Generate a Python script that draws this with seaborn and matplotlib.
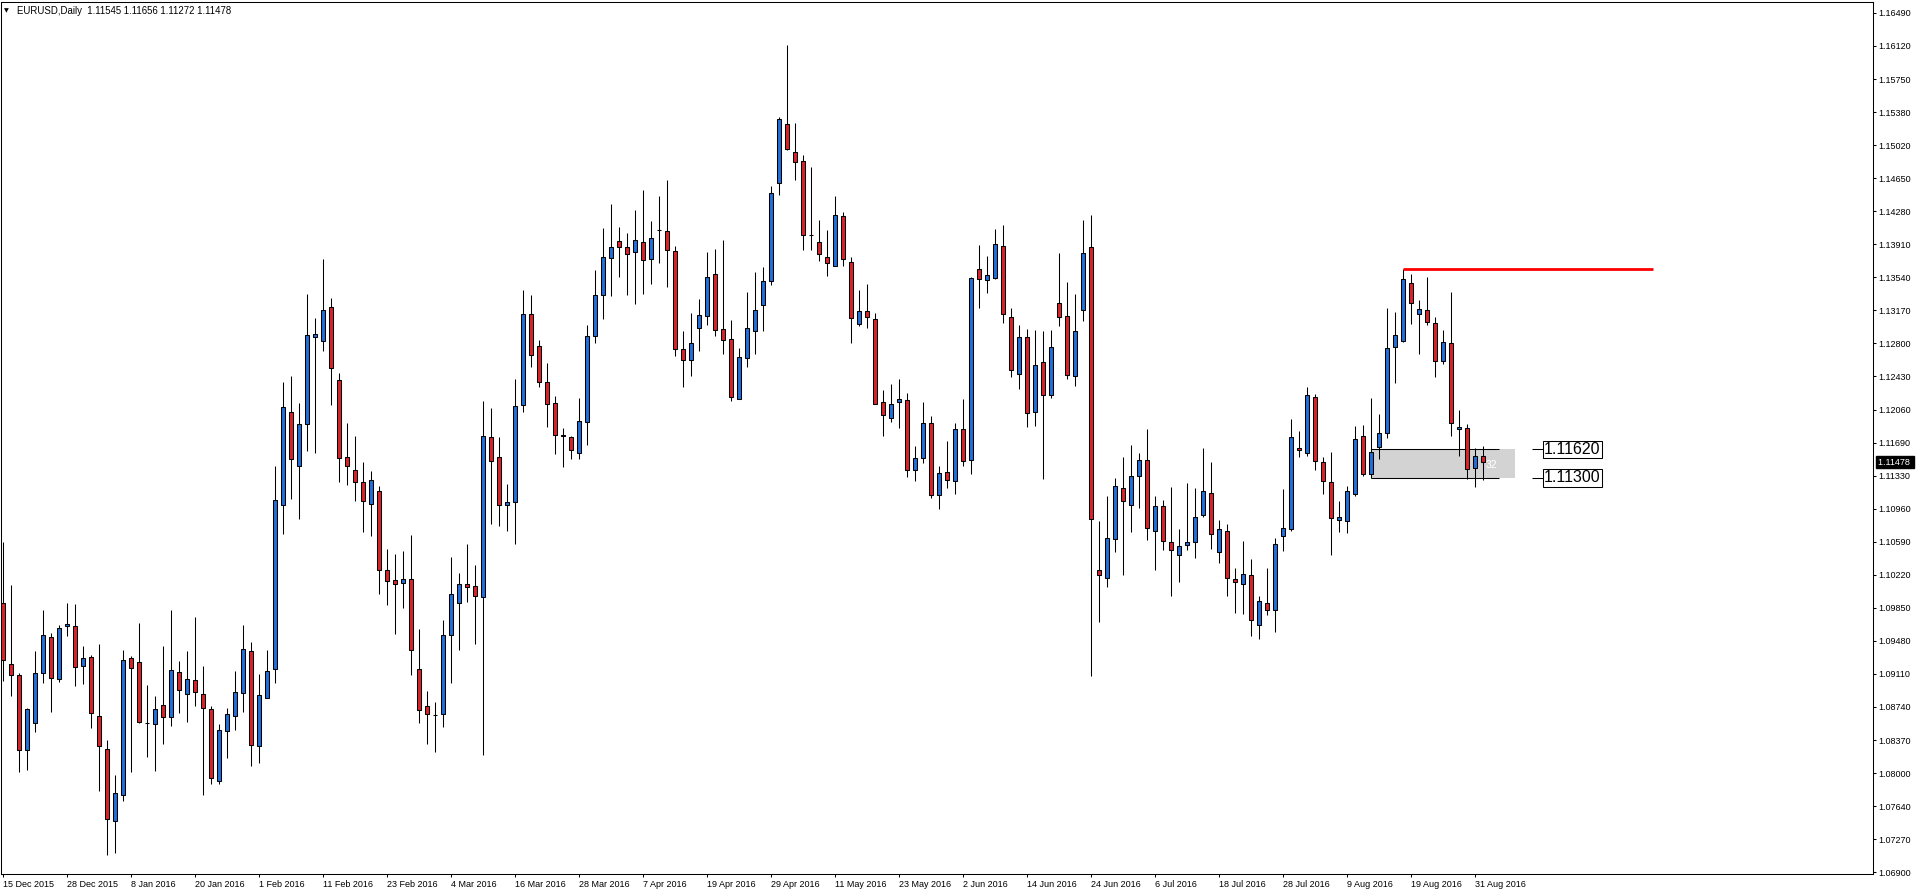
import numpy as np
import pandas as pd
import matplotlib
matplotlib.use("Agg")
import matplotlib.pyplot as plt
import matplotlib.transforms as mtransforms
from matplotlib.patches import Rectangle
import seaborn as sns

# Daily EURUSD bars
open_ = [1.09904, 1.09223, 1.09104, 1.08263, 1.08565, 1.09123, 1.09528, 1.09056, 1.09644, 1.09647,
         1.09201, 1.09305, 1.08643, 1.08275, 1.07471, 1.07761, 1.09290, 1.09246, 1.08568, 1.08554,
         1.08766, 1.08632, 1.09134, 1.08888, 1.09045, 1.08888, 1.08721, 1.07918, 1.08475, 1.08643,
         1.08900, 1.09371, 1.08309, 1.08847, 1.09164, 1.10994, 1.12034, 1.11436, 1.11900, 1.12875,
         1.12829, 1.13211, 1.12392, 1.11537, 1.11385, 1.11252, 1.11008, 1.11151, 1.10273, 1.10158,
         1.10125, 1.10171, 1.09164, 1.08755, 1.08654, 1.08668, 1.09551, 1.09905, 1.10116, 1.10093,
         1.09974, 1.11757, 1.11534, 1.10998, 1.11030, 1.12113, 1.13126, 1.12776, 1.12367, 1.12134,
         1.11778, 1.11757, 1.11582, 1.11922, 1.12888, 1.13344, 1.13753, 1.13944, 1.13875, 1.13827,
         1.13933, 1.13742, 1.14071, 1.14055, 1.13832, 1.12739, 1.12612, 1.12978, 1.13110, 1.13572,
         1.12962, 1.12847, 1.12186, 1.12635, 1.12935, 1.13228, 1.13502, 1.14588, 1.15255, 1.14937,
         1.14837, 1.14008, 1.13933, 1.13764, 1.13671, 1.14220, 1.13708, 1.13016, 1.13159, 1.13078,
         1.12143, 1.11974, 1.12149, 1.12167, 1.11388, 1.11519, 1.11912, 1.11107, 1.11363, 1.11269,
         1.11849, 1.11503, 1.13631, 1.13514, 1.13530, 1.13885, 1.13095, 1.12458, 1.12872, 1.12038,
         1.12596, 1.12224, 1.13254, 1.13105, 1.12442, 1.13179, 1.13875, 1.10271, 1.10186, 1.10616,
         1.11189, 1.11004, 1.11317, 1.11503, 1.10712, 1.10988, 1.10590, 1.10446, 1.10547, 1.10590,
         1.10892, 1.11133, 1.10474, 1.10712, 1.10173, 1.10118, 1.10217, 1.09663, 1.09905, 1.09831,
         1.10653, 1.10732, 1.11637, 1.11578, 1.12202, 1.11479, 1.11256, 1.10831, 1.10821, 1.11123,
         1.11771, 1.11345, 1.11647, 1.11801, 1.12761, 1.12828, 1.13476, 1.13130, 1.13174, 1.13033,
         1.12605, 1.12806, 1.11846, 1.11857, 1.11407, 1.11545]

high = [1.10581, 1.10109, 1.09123, 1.08732, 1.09372, 1.09830, 1.09565, 1.09662, 1.09904, 1.09897,
        1.09428, 1.09324, 1.09450, 1.08379, 1.07988, 1.09383, 1.09316, 1.09685, 1.08993, 1.08870,
        1.09420, 1.09830, 1.09260, 1.09372, 1.09751, 1.09205, 1.08758, 1.08557, 1.08732, 1.09149,
        1.09662, 1.09468, 1.09114, 1.09385, 1.11436, 1.12374, 1.12443, 1.12135, 1.13358, 1.13087,
        1.13749, 1.13312, 1.12475, 1.11919, 1.11772, 1.11477, 1.11376, 1.11215, 1.10512, 1.10456,
        1.10489, 1.10668, 1.09620, 1.08925, 1.08801, 1.09712, 1.10420, 1.10240, 1.10567, 1.10332,
        1.12158, 1.12076, 1.11752, 1.11237, 1.12410, 1.13402, 1.13344, 1.12835, 1.12585, 1.12214,
        1.11863, 1.11768, 1.12192, 1.13010, 1.13625, 1.14092, 1.14363, 1.14103, 1.14029, 1.14294,
        1.14517, 1.14167, 1.14448, 1.14623, 1.13885, 1.12935, 1.13142, 1.13302, 1.13827, 1.13859,
        1.13960, 1.13066, 1.12754, 1.13378, 1.13596, 1.13658, 1.14557, 1.15330, 1.16135, 1.15261,
        1.14906, 1.14775, 1.14182, 1.14070, 1.14451, 1.14263, 1.13771, 1.13403, 1.13465, 1.13141,
        1.12286, 1.12348, 1.12405, 1.12248, 1.11656, 1.12149, 1.11987, 1.11431, 1.11712, 1.11912,
        1.12180, 1.13546, 1.13901, 1.13779, 1.14082, 1.14124, 1.13201, 1.13010, 1.12967, 1.12946,
        1.12935, 1.12946, 1.13806, 1.13482, 1.13355, 1.14182, 1.14236, 1.10823, 1.11104, 1.11295,
        1.11529, 1.11672, 1.11582, 1.11842, 1.11104, 1.11057, 1.11195, 1.10733, 1.11248, 1.11184,
        1.11630, 1.11474, 1.10831, 1.10791, 1.10291, 1.10593, 1.10400, 1.09980, 1.10291, 1.10633,
        1.11177, 1.11954, 1.11821, 1.12315, 1.12236, 1.11538, 1.11593, 1.11039, 1.11212, 1.11885,
        1.11890, 1.12197, 1.12019, 1.13201, 1.13147, 1.13630, 1.13580, 1.13290, 1.13539, 1.13096,
        1.12951, 1.13379, 1.12062, 1.11906, 1.11634, 1.11656]

low = [1.09037, 1.08862, 1.08014, 1.08040, 1.08461, 1.09007, 1.08684, 1.09019, 1.09532, 1.08974,
       1.08996, 1.08505, 1.07802, 1.07092, 1.07114, 1.07691, 1.08014, 1.08565, 1.08182, 1.08025,
       1.08327, 1.08528, 1.08673, 1.08572, 1.08751, 1.07761, 1.07880, 1.07880, 1.08170, 1.08487,
       1.08688, 1.08088, 1.08121, 1.08840, 1.09017, 1.10673, 1.11063, 1.10838, 1.11597, 1.11574,
       1.12714, 1.12112, 1.11252, 1.11220, 1.11040, 1.10696, 1.10654, 1.10010, 1.09882, 1.09560,
       1.09850, 1.09100, 1.08571, 1.08332, 1.08245, 1.08516, 1.09013, 1.09381, 1.09914, 1.09445,
       1.08203, 1.10786, 1.10759, 1.10706, 1.10563, 1.12033, 1.12537, 1.12314, 1.11869, 1.11571,
       1.11428, 1.11513, 1.11513, 1.11667, 1.12808, 1.13073, 1.13328, 1.13540, 1.13339, 1.13238,
       1.13349, 1.13461, 1.13694, 1.13429, 1.12659, 1.12314, 1.12442, 1.12718, 1.13004, 1.12882,
       1.12681, 1.12155, 1.12180, 1.12535, 1.12685, 1.12935, 1.13459, 1.14457, 1.14960, 1.14631,
       1.13839, 1.13839, 1.13727, 1.13552, 1.13665, 1.13671, 1.12804, 1.12991, 1.12972, 1.12125,
       1.11774, 1.11930, 1.11856, 1.11307, 1.11263, 1.11463, 1.11082, 1.10951, 1.11188, 1.11119,
       1.11431, 1.11343, 1.13195, 1.13360, 1.13519, 1.13026, 1.12426, 1.12293, 1.11869, 1.11879,
       1.11285, 1.12192, 1.12994, 1.12405, 1.12325, 1.13052, 1.09088, 1.09693, 1.10080, 1.10473,
       1.10213, 1.10696, 1.10966, 1.10606, 1.10271, 1.10494, 1.09985, 1.10139, 1.10500, 1.10404,
       1.10866, 1.10509, 1.10356, 1.09980, 1.09791, 1.09782, 1.09539, 1.09504, 1.09767, 1.09579,
       1.10489, 1.10707, 1.11533, 1.11543, 1.11390, 1.11118, 1.10435, 1.10692, 1.10682, 1.11103,
       1.11326, 1.11340, 1.11509, 1.11746, 1.12365, 1.12813, 1.13014, 1.12680, 1.13007, 1.12423,
       1.12568, 1.11772, 1.11549, 1.11288, 1.11203, 1.11272]

close = [1.09268, 1.09104, 1.08263, 1.08721, 1.09123, 1.09547, 1.09067, 1.09625, 1.09673, 1.09186,
         1.09294, 1.08676, 1.08304, 1.07493, 1.07784, 1.09268, 1.09179, 1.08576, 1.08568, 1.08721,
         1.08632, 1.09156, 1.08933, 1.09056, 1.08911, 1.08732, 1.07951, 1.08487, 1.08665, 1.08911,
         1.09391, 1.08318, 1.08875, 1.09146, 1.11054, 1.12089, 1.11509, 1.11900, 1.12893, 1.12907,
         1.13174, 1.12530, 1.11523, 1.11436, 1.11257, 1.11045, 1.11275, 1.10271, 1.10153, 1.10116,
         1.10171, 1.09381, 1.08709, 1.08668, 1.08654, 1.09546, 1.10006, 1.10116, 1.10084, 1.09983,
         1.11767, 1.11492, 1.10998, 1.11030, 1.12102, 1.13126, 1.12670, 1.12367, 1.12129, 1.11784,
         1.11763, 1.11614, 1.11932, 1.12882, 1.13344, 1.13763, 1.13875, 1.13875, 1.13800, 1.13954,
         1.13731, 1.13976, 1.14071, 1.13843, 1.12734, 1.12612, 1.12803, 1.13116, 1.13540, 1.12957,
         1.12845, 1.12199, 1.12648, 1.12972, 1.13178, 1.13496, 1.14476, 1.15305, 1.14968, 1.14825,
         1.14008, 1.14008, 1.13796, 1.13696, 1.14232, 1.13739, 1.13084, 1.13159, 1.13091, 1.12130,
         1.11999, 1.12130, 1.12186, 1.11388, 1.11519, 1.11912, 1.11107, 1.11350, 1.11282, 1.11843,
         1.11488, 1.13530, 1.13519, 1.13562, 1.13912, 1.13126, 1.12506, 1.12872, 1.12028, 1.12559,
         1.12224, 1.12760, 1.13100, 1.12447, 1.12941, 1.13811, 1.10844, 1.10213, 1.10632, 1.11211,
         1.11046, 1.11322, 1.11503, 1.10744, 1.10988, 1.10600, 1.10500, 1.10542, 1.10584, 1.10866,
         1.11152, 1.10677, 1.10732, 1.10182, 1.10143, 1.10232, 1.09717, 1.09930, 1.09831, 1.10568,
         1.10742, 1.11756, 1.11608, 1.12226, 1.11484, 1.11266, 1.10855, 1.10860, 1.11152, 1.11736,
         1.11345, 1.11593, 1.11806, 1.12756, 1.12894, 1.13520, 1.13252, 1.13189, 1.13040, 1.12605,
         1.12821, 1.11909, 1.11869, 1.11400, 1.11549, 1.11478]

# x axis: one label every 8 bars
date_labels = ['15 Dec 2015', '28 Dec 2015', '8 Jan 2016', '20 Jan 2016', '1 Feb 2016',
               '11 Feb 2016', '23 Feb 2016', '4 Mar 2016', '16 Mar 2016', '28 Mar 2016',
               '7 Apr 2016', '19 Apr 2016', '29 Apr 2016', '11 May 2016', '23 May 2016',
               '2 Jun 2016', '14 Jun 2016', '24 Jun 2016', '6 Jul 2016', '18 Jul 2016',
               '28 Jul 2016', '9 Aug 2016', '19 Aug 2016', '31 Aug 2016']
bars_per_label = 8

# y axis labels (bottom to top)
price_labels = ['1.06900', '1.07270', '1.07640', '1.08000', '1.08370', '1.08740', '1.09110',
                '1.09480', '1.09850', '1.10220', '1.10590', '1.10960', '1.11330', '1.11690',
                '1.12060', '1.12430', '1.12800', '1.13170', '1.13540', '1.13910', '1.14280',
                '1.14650', '1.15020', '1.15380', '1.15750', '1.16120', '1.16490']

# drawn objects
resistance = 1.13630
zone_top = 1.11620
zone_bottom = 1.11300
zone_text = '32'

UP = '#2070D8'
DOWN = '#D8232A'

df = pd.DataFrame({'open': open_, 'high': high, 'low': low, 'close': close})
df['bar'] = np.arange(len(df))

sns.set_theme(style='white')
plt.rcParams['font.family'] = ['Liberation Sans', 'DejaVu Sans']

fig = plt.figure(figsize=(19.16, 8.96), dpi=100)
ax = fig.add_axes([1 / 1916, 21.7 / 896, 1872 / 1916, 872.3 / 896])

up = df['close'] >= df['open']
colors = np.where(up, UP, DOWN)

# wicks then bodies
ax.vlines(df['bar'], df['low'], df['high'], color='black', linewidth=0.75, zorder=2)
ax.bar(df['bar'], (df['close'] - df['open']).abs(),
       bottom=df[['open', 'close']].min(axis=1), width=0.5,
       color=colors, edgecolor='black', linewidth=0.75, zorder=3)

# grey zone with its lines
ax.add_patch(Rectangle((171.0, zone_bottom), 18.0, zone_top - zone_bottom,
                       facecolor='#D3D3D3', edgecolor='none', zorder=1))
ax.hlines([zone_top, zone_bottom], 171.0, 187.0, color='black', linewidth=0.75, zorder=1.5)
ax.vlines(171.0, zone_bottom, zone_top, color='black', linewidth=0.75, zorder=1.5)
ax.text(185.3, (zone_top + zone_bottom) / 2 - 0.0001, zone_text, color='white',
        fontsize=7.5, ha='left', va='center', zorder=4)

# price labels of the zone
for p in (zone_top, zone_bottom):
    ax.hlines(p, 191.1, 192.4, color='black', linewidth=0.75)
    ax.text(192.6, p, f'{p:.5f}', ha='left', va='center', fontsize=11.5, color='black',
            bbox=dict(boxstyle='square,pad=0.08', fc='white', ec='black', lw=0.75), zorder=5)

# resistance line
ax.hlines(resistance, 174.9, 206.2, color='#FF0000', linewidth=2.0, zorder=4)

ax.set_xlim(-0.29, 233.7)
ax.set_ylim(1.06877, 1.16612)

ax.set_xticks(np.arange(len(date_labels)) * bars_per_label)
ax.set_xticklabels(date_labels)
for lbl in ax.get_xticklabels():
    lbl.set_horizontalalignment('left')

ax.yaxis.tick_right()
ax.set_yticks(np.linspace(float(price_labels[0]), float(price_labels[-1]), len(price_labels)))
ax.set_yticklabels(price_labels)

ax.tick_params(axis='both', direction='out', length=2.5, width=0.75, colors='black',
               labelsize=6.5, pad=1.5)
ax.tick_params(axis='x', bottom=True, top=False)
ax.tick_params(axis='y', right=True, left=False, labelright=True, labelleft=False)

for s in ax.spines.values():
    s.set_color('black')
    s.set_linewidth(0.75)
ax.grid(False)

# current price marker on the axis
trans = mtransforms.blended_transform_factory(ax.transAxes, ax.transData)
ax.text(1.0025, close[-1], f'{close[-1]:.5f} ', transform=trans, ha='left', va='center',
        color='white', fontsize=6.5, clip_on=False,
        bbox=dict(boxstyle='square,pad=0.2', fc='black', ec='black'))

# header
ytitle = 1 - 11 / 896
fig.text(4 / 1916, ytitle, '\u25BC', fontsize=4.5, va='center', color='black',
         family=['DejaVu Sans'])
fig.text(17 / 1916, ytitle,
         f'EURUSD,Daily  {open_[-1]:.5f} {high[-1]:.5f} {low[-1]:.5f} {close[-1]:.5f}',
         fontsize=6.9, va='center', color='black')

fig.savefig('out.png', dpi=100)
